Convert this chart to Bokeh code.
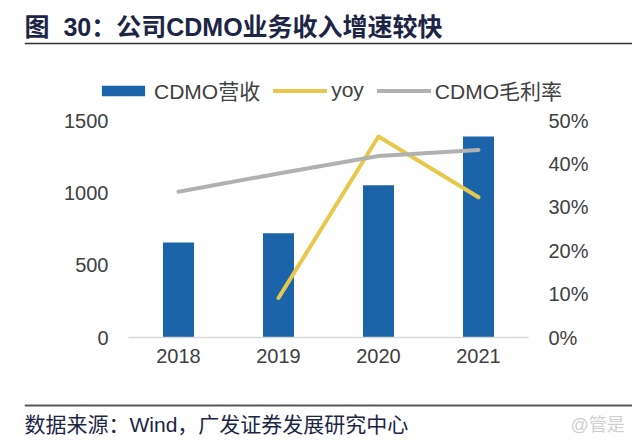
from bokeh.plotting import figure
from bokeh.models import (FactorRange, Range1d, LinearAxis, BoxAnnotation, Label,
                          Legend, LegendItem, FixedTicker, NumeralTickFormatter,
                          ColumnDataSource)
from bokeh.embed import file_html
from bokeh.resources import INLINE

# ---- data ----
years = ["2018", "2019", "2020", "2021"]
cdmo_revenue = [657, 720, 1053, 1390]
yoy_years = ["2019", "2020", "2021"]
yoy_growth = [0.091, 0.463, 0.323]
gross_margin = [0.336, 0.378, 0.418, 0.432]
left_ticks = [0, 500, 1000, 1500]
right_ticks = [0, 0.1, 0.2, 0.3, 0.4, 0.5]

title_text = "图 \u00a030：公司CDMO业务收入增速较快"
source_text = "数据来源：Wind，广发证券发展研究中心"
watermark_text = "@管是"
legend_labels = ["CDMO营收", "yoy", "CDMO毛利率"]

# ---- style / layout constants (page pixels) ----
BLUE = "#1b64a9"
YELLOW = "#e8c84b"
GRAY = "#b1b1b1"
NAVY = "#1c2545"
TICK = "#404040"
FONT = "'Liberation Sans', 'Noto Sans CJK SC'"
W, H = 632, 436
FRAME_L = 24                 # frame spans the whole canvas except a small left strip
PLOT_L, PLOT_R = 128, 528    # plot area (value axes positions)
PLOT_T, PLOT_B = 120, 337
LEFT_MAX, RIGHT_MAX = 1500, 0.5

span = PLOT_B - PLOT_T
y_lo = -LEFT_MAX * (H - PLOT_B) / span
y_hi = LEFT_MAX * PLOT_B / span
pct_lo = -RIGHT_MAX * (H - PLOT_B) / span
pct_hi = RIGHT_MAX * PLOT_B / span
cat_px = (PLOT_R - PLOT_L) / len(years)
pad_units = (W - PLOT_R) / cat_px      # padding on each side, in category units


def sx(px):
    return px - FRAME_L


def sy(py):
    return H - py


p = figure(width=W, height=H,
           x_range=FactorRange(factors=years, range_padding=pad_units,
                               range_padding_units="absolute"),
           y_range=Range1d(y_lo, y_hi),
           output_backend="svg", toolbar_location=None,
           min_border_left=FRAME_L, min_border_right=0,
           min_border_top=0, min_border_bottom=0,
           background_fill_color="white", border_fill_color="white",
           outline_line_color=None)
p.title.visible = False
p.extra_y_ranges = {"pct": Range1d(pct_lo, pct_hi)}
p.xgrid.visible = False
p.ygrid.visible = False

right_axis = LinearAxis(y_range_name="pct", ticker=FixedTicker(ticks=right_ticks),
                        formatter=NumeralTickFormatter(format="0%"))
p.add_layout(right_axis, "right")

for ax in [p.xaxis[0], p.yaxis[0], right_axis]:
    ax.axis_line_color = None
    ax.major_tick_line_color = None
    ax.minor_tick_line_color = None
    ax.major_tick_out = 0
    ax.major_tick_in = 0
    ax.minor_tick_out = 0
    ax.major_label_text_font = FONT
    ax.major_label_text_font_size = "20px"
    ax.major_label_text_color = TICK

p.yaxis[0].ticker = FixedTicker(ticks=left_ticks)
p.yaxis[0].major_label_standoff = -(108 - FRAME_L)
right_axis.major_label_standoff = -(W - 548)
p.xaxis[0].major_label_standoff = -(H - 348)

# baseline of the plot area
p.add_layout(BoxAnnotation(left=0, right=len(years), bottom=sy(PLOT_B + 0.75),
                           top=sy(PLOT_B - 0.75), bottom_units="screen",
                           top_units="screen", fill_color="#d9d9d9", fill_alpha=1,
                           line_color=None))

src = ColumnDataSource(dict(year=years, revenue=cdmo_revenue, margin=gross_margin))
bars = p.vbar(x="year", top="revenue", width=0.31, source=src,
              fill_color=BLUE, line_color=None)
yoy_r = p.line(x=yoy_years, y=yoy_growth, y_range_name="pct",
               line_color=YELLOW, line_width=4, line_cap="round", line_join="round")
gm_r = p.line(x="year", y="margin", source=src, y_range_name="pct",
              line_color=GRAY, line_width=4, line_cap="round", line_join="round")

legend = Legend(items=[LegendItem(label=legend_labels[0], renderers=[bars]),
                       LegendItem(label=legend_labels[1], renderers=[yoy_r]),
                       LegendItem(label=legend_labels[2], renderers=[gm_r])],
                orientation="horizontal", location=(sx(96), sy(105)),
                glyph_width=54, glyph_height=13, label_height=20,
                label_standoff=4, spacing=13, padding=0, margin=0,
                border_line_color=None, background_fill_alpha=0,
                label_text_font=FONT, label_text_font_size="21px",
                label_text_color=TICK)
p.add_layout(legend)

# title and rules, source and watermark
p.add_layout(Label(x=sx(FRAME_L), y=sy(26), x_units="screen", y_units="screen",
                   text=title_text, text_font=FONT, text_font_size="25px",
                   text_font_style="bold", text_color=NAVY, text_baseline="middle"))
p.add_layout(BoxAnnotation(left=sx(FRAME_L), right=sx(W), top=sy(42.25), bottom=sy(43.75),
                           left_units="screen", right_units="screen",
                           top_units="screen", bottom_units="screen",
                           fill_color="#333333", fill_alpha=1, line_color=None))
p.add_layout(BoxAnnotation(left=sx(FRAME_L), right=sx(W), top=sy(404), bottom=sy(406),
                           left_units="screen", right_units="screen",
                           top_units="screen", bottom_units="screen",
                           fill_color="#595959", fill_alpha=1, line_color=None))
p.add_layout(Label(x=sx(FRAME_L), y=sy(424), x_units="screen", y_units="screen",
                   text=source_text, text_font=FONT, text_font_size="21px",
                   text_color=NAVY, text_baseline="middle"))
p.add_layout(Label(x=sx(570), y=sy(424), x_units="screen", y_units="screen",
                   text=watermark_text, text_font=FONT, text_font_size="18px",
                   text_color="#cfcfcf", text_baseline="middle"))

open("out.html", "w").write(file_html(p, INLINE))
